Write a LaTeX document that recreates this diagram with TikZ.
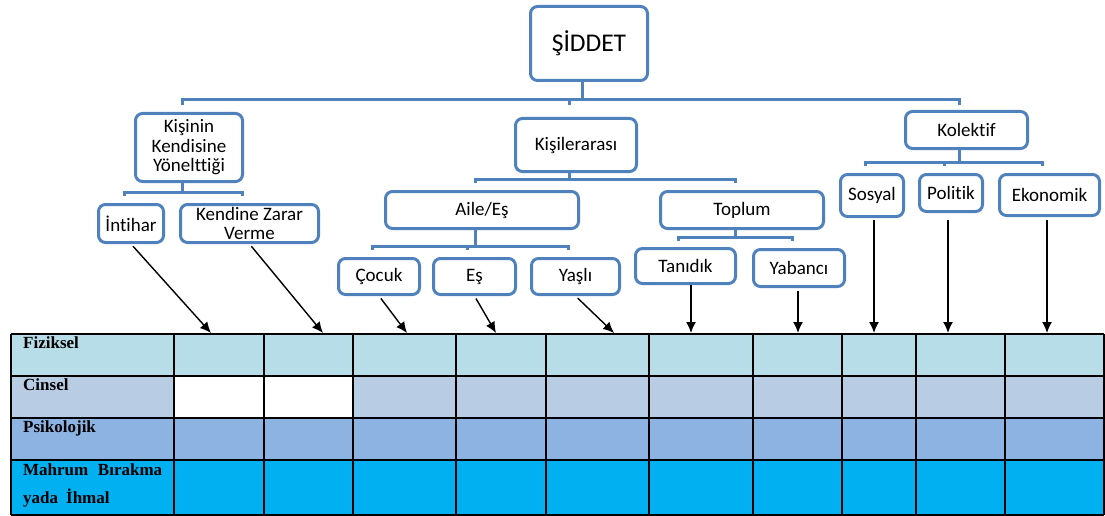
\documentclass[tikz,border=0pt]{standalone}
\usepackage{fontspec}
\setmainfont{Liberation Serif}
\newfontfamily\boxfont[Ligatures=NoCommon]{Carlito}
\usepackage{tikz}
\usetikzlibrary{arrows.meta}
\definecolor{boxblue}{RGB}{79,129,189}
\definecolor{fizcolor}{RGB}{183,221,232}
\definecolor{cincolor}{RGB}{184,204,228}
\definecolor{psicolor}{RGB}{141,179,226}
\definecolor{mahcolor}{RGB}{0,176,240}

\begin{document}
\begin{tikzpicture}[x=1pt,y=-1pt]
\tikzset{box/.style = {shape=rectangle,draw=boxblue,line width=3pt,rounded corners=7pt,align=center,inner sep=1pt,font=\boxfont\fontsize{19}{19.5}\selectfont}}
\tikzset{link/.style = {draw=boxblue,line width=3pt}}
\tikzset{arr/.style = {->,> = {Latex[length=11pt,width=10pt]},line width=1.4pt}}
\tikzset{cellrule/.style = {line width=1.2pt}}
\tikzset{rowname/.style = {anchor=north west,inner sep=0pt,font=\bfseries\fontsize{17}{28}\selectfont}}

\useasboundingbox (0,0) rectangle (1105,516);

% tree
\node[box,minimum width=117,minimum height=74,font=\boxfont\fontsize{25.5}{30}\selectfont] (siddet) at (589,43.5) {ŞİDDET};
\node[box,minimum width=107,minimum height=68] (kisinin) at (189,147.5) {Kişinin\\Kendisine\\Yönelttiği};
\node[box,minimum width=121,minimum height=53] (kisiler) at (576,145) {Kişilerarası};
\node[box,minimum width=122,minimum height=37] (kolektif) at (966.5,130) {Kolektif};

\node[box,minimum width=65,minimum height=38] (intihar) at (131,223.5) {İntihar};
\node[box,minimum width=138,minimum height=38] (zarar) at (249.5,223.5) {Kendine Zarar\\Verme};
\node[box,minimum width=193,minimum height=37] (aile) at (482,210) {Aile/Eş};
\node[box,minimum width=163,minimum height=37] (toplum) at (742,210) {Toplum};
\node[box,minimum width=63,minimum height=42] (sosyal) at (872,195.5) {Sosyal};
\node[box,minimum width=63,minimum height=37] (politik) at (951,193) {Politik};
\node[box,minimum width=100,minimum height=41] (ekonomik) at (1049.5,195) {Ekonomik};

\node[box,minimum width=81,minimum height=36] (cocuk) at (379,276.5) {Çocuk};
\node[box,minimum width=82,minimum height=36] (es) at (474.5,276.5) {Eş};
\node[box,minimum width=88,minimum height=36] (yasli) at (575.5,276.5) {Yaşlı};
\node[box,minimum width=100,minimum height=35] (tanidik) at (685.5,266) {Tanıdık};
\node[box,minimum width=91,minimum height=37] (yabanci) at (799,268) {Yabancı};

% connectors
\foreach \n in {siddet,kisinin,kisiler,kolektif,intihar,zarar,aile,toplum,sosyal,politik,ekonomik,cocuk,es,yasli,tanidik,yabanci}
  \coordinate (\n-c) at ([xshift=-7pt]\n.center);
\coordinate (bar0) at (0,100);
\coordinate (bar1) at (0,192);
\coordinate (bar2) at (0,179);
\coordinate (bar3) at (0,162);
\coordinate (bar4) at (0,246);
\coordinate (bar5) at (0,237);

\draw[link] (siddet-c |- siddet.south) -- (siddet-c |- bar0);
\draw[link] (kisinin-c |- bar0) ++(0,5) -- ++(0,-5) -- (kolektif-c |- bar0) -- ++(0,5);
\draw[link] (kisiler-c |- bar0) -- ++(0,5);

\draw[link] (kisinin-c |- kisinin.south) -- (kisinin-c |- bar1);
\draw[link] (intihar-c |- bar1) ++(0,4) -- ++(0,-4) -- (zarar-c |- bar1) -- ++(0,4);

\draw[link] (kisiler-c |- kisiler.south) -- (kisiler-c |- bar2);
\draw[link] (aile-c |- bar2) ++(0,4) -- ++(0,-4) -- (toplum-c |- bar2) -- ++(0,4);

\draw[link] (kolektif-c |- kolektif.south) -- (kolektif-c |- bar3);
\draw[link] (sosyal-c |- bar3) ++(0,4) -- ++(0,-4) -- (ekonomik-c |- bar3) -- ++(0,4);
\draw[link] (politik-c |- bar3) -- ++(0,4);

\draw[link] (aile-c |- aile.south) -- (aile-c |- bar4);
\draw[link] (cocuk-c |- bar4) ++(0,4) -- ++(0,-4) -- (yasli-c |- bar4) -- ++(0,4);
\draw[link] (es-c |- bar4) -- ++(0,4);

\draw[link] (toplum-c |- toplum.south) -- (toplum-c |- bar5);
\draw[link] (tanidik-c |- bar5) ++(0,4) -- ++(0,-4) -- (yabanci-c |- bar5) -- ++(0,4);

% table
\fill[fizcolor] (11,334) rectangle (1104,376);
\fill[cincolor] (11,376) rectangle (1104,418);
\fill[white] (174,376) rectangle (353,418);
\fill[psicolor] (11,418) rectangle (1104,460);
\fill[mahcolor] (11,460) rectangle (1104,515);
\foreach \x in {11,174,264,353,456,546,649,753,842,916,1005,1104}
  \draw[cellrule] (\x,334) -- (\x,515);
\foreach \y in {334,376,418,460,515}
  \draw[cellrule] (11,\y) -- (1104,\y);

\node[rowname] (fiziksel) at (23,337) {Fiziksel};
\node[rowname] (cinsel) at (23,379) {Cinsel};
\node[rowname] (psikolojik) at (23,421) {Psikolojik};
\node[rowname,align=left] (mahrum) at (23,463) {\makebox[139pt][s]{Mahrum Bırakma}\\yada\hspace{8pt}İhmal};

% arrows into the table
\coordinate (t1) at (211,333);
\coordinate (t2) at (323,333);
\coordinate (t3) at (407,333);
\coordinate (t4) at (496,333);
\coordinate (t5) at (614,333);
\coordinate (t6) at (691,333);
\coordinate (t7) at (798,333);
\coordinate (t8) at (874,333);
\coordinate (t9) at (948,333);
\coordinate (t10) at (1047,333);

\draw[arr,shorten <=3pt] (intihar.south) -- (t1);
\draw[arr,shorten <=3pt] (zarar.south) -- (t2);
\draw[arr,shorten <=3pt] (cocuk.south) -- (t3);
\draw[arr,shorten <=3pt] (es.south) -- (t4);
\draw[arr,shorten <=3pt] (yasli.south) -- (t5);
\draw[arr] (tanidik.south -| t6) -- (t6);
\draw[arr,shorten <=3pt] (yabanci.south -| t7) -- (t7);
\draw[arr,shorten <=2pt] (sosyal.south -| t8) -- (t8);
\draw[arr,shorten <=7pt] (politik.south -| t9) -- (t9);
\draw[arr,shorten <=3pt] (ekonomik.south -| t10) -- (t10);
\end{tikzpicture}
\end{document}
